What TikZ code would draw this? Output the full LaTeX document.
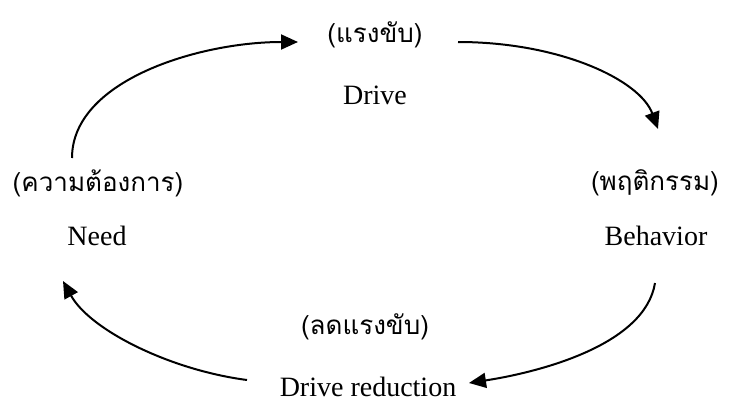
\documentclass[tikz,border=0pt]{standalone}
\usepackage{fontspec}
\setmainfont{Liberation Serif}
\newfontfamily\thaifont[Script=Thai]{Loma}
\usetikzlibrary{arrows.meta}
\tikzset{
  lbl/.style={font=\fontsize{28}{32}\selectfont, inner sep=0pt},
  thl/.style={font=\fontsize{26}{32}\selectfont\thaifont, inner sep=0pt},
  cyc/.style={line width=2pt, -{Triangle[length=17pt,width=15pt]}}
}
\begin{document}
\begin{tikzpicture}[x=1pt,y=-1pt]
\useasboundingbox (0,0) rectangle (729,415);
\node[thl] (drth) at (375,35) {(แรงขับ)};
\node[lbl] (dr) at (375,95) {Drive};
\node[thl] (neth) at (98,183) {(ความต้องการ)};
\node[lbl] (ne) at (97,236) {Need};
\node[thl] (beth) at (655,183) {(พฤติกรรม)};
\node[lbl] (be) at (656,236) {Behavior};
\node[thl] (rdth) at (365,327) {(ลดแรงขับ)};
\node[lbl] (rd) at (368,387) {Drive reduction};
\coordinate (a1s) at (72,158);
\coordinate (a1e) at (298,42);
\coordinate (a2s) at (458,42);
\coordinate (a2e) at (658,129);
\coordinate (a3s) at (655,283);
\coordinate (a3e) at (469,383);
\coordinate (a4s) at (247,380);
\coordinate (a4e) at (63,281);
\draw[cyc] (a1s) .. controls (72,80) and (200,42) .. (a1e);
\draw[cyc] (a2s) .. controls (560,42) and (640,80) .. (a2e);
\draw[cyc] (a3s) .. controls (645,345) and (540,372) .. (a3e);
\draw[cyc] (a4s) .. controls (170,370) and (90,330) .. (a4e);
\end{tikzpicture}
\end{document}
